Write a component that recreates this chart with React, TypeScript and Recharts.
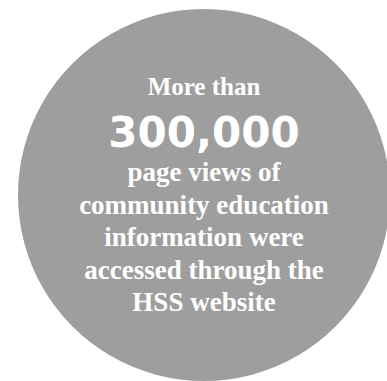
import React from "react";
import { PieChart, Pie, Cell } from "recharts";

const slices = [{ name: "pageViews", value: 300000 }];
const headline = "300,000";
const topLine = "More than";
const bodyLines = [
    "page views of",
    "community education",
    "information were",
    "accessed through the",
    "HSS website",
];

// draws the copy inside the circle, relative to the pie centre
const renderCopy = (props: any) => {
    const { cx, cy } = props;
    return (
        <g>
            <text
                x={cx}
                y={cy - 100}
                textAnchor="middle"
                fill="#ffffff"
                fontFamily="Liberation Serif"
                fontWeight="bold"
                fontSize={25}
            >
                {topLine}
            </text>
            <text
                x={cx}
                y={cy - 48}
                textAnchor="middle"
                fill="#ffffff"
                fontFamily="DejaVu Sans"
                fontWeight="bold"
                fontSize={42}
            >
                {headline}
            </text>
            {bodyLines.map((line, i) => (
                <text
                    key={line}
                    x={cx}
                    y={cy - 14 + i * 32.5}
                    textAnchor="middle"
                    fill="#ffffff"
                    fontFamily="Liberation Serif"
                    fontWeight="bold"
                    fontSize={27}
                >
                    {line}
                </text>
            ))}
        </g>
    );
};

const App: React.FC = () => {
    return (
        <div style={{ position: "absolute", left: 0, top: 0 }}>
            <PieChart width={387} height={381}>
                <Pie
                    data={slices}
                    cx={199}
                    cy={190}
                    innerRadius={0}
                    outerRadius={186}
                    startAngle={90}
                    endAngle={-270}
                    dataKey="value"
                    label={renderCopy}
                    labelLine={false}
                    isAnimationActive={false}
                >
                    {slices.map((entry, index) => (
                        <Cell key={`cell-${index}`} fill="#9e9e9e" stroke="none" />
                    ))}
                </Pie>
            </PieChart>
        </div>
    );
};

export default App;
